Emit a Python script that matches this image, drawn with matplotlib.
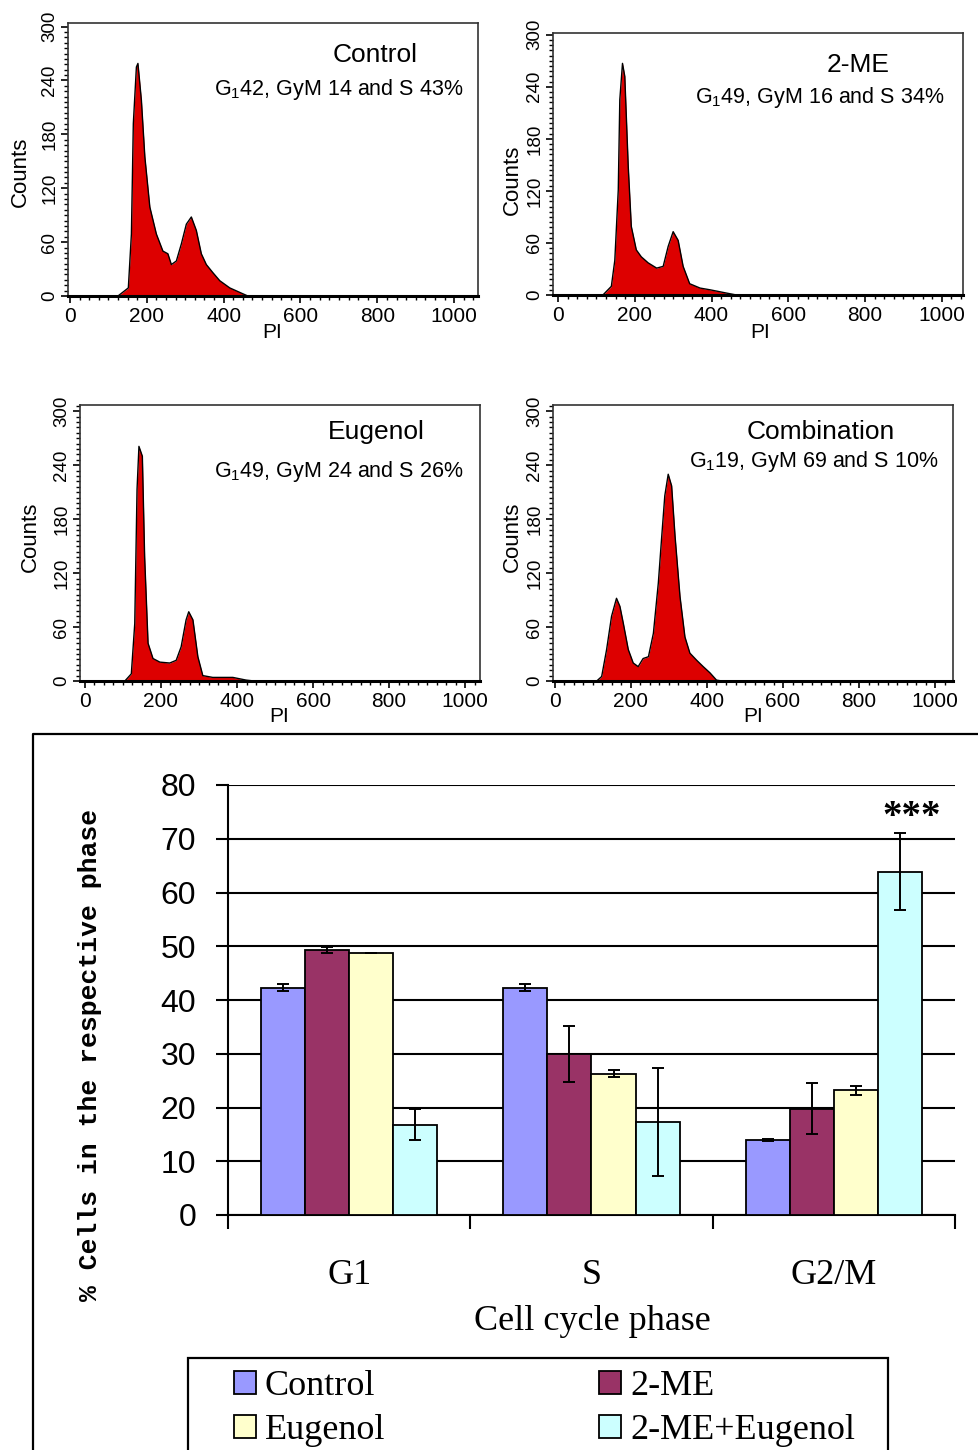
import matplotlib
matplotlib.use("Agg")
import matplotlib.pyplot as plt
from matplotlib.lines import Line2D
from matplotlib.patches import Rectangle
from matplotlib.ticker import MultipleLocator

# DNA content histograms (PI value, counts)
control_pi = [125, 152, 160, 165, 173, 177, 186, 195, 208, 225, 242, 255, 264, 277, 290, 303, 316,
              329, 342, 355, 372, 390, 416, 442, 463]
control_counts = [0, 9, 69, 192, 255, 259, 218, 155, 99, 69, 50, 47, 35, 39, 58, 80, 88,
                  73, 47, 35, 26, 17, 9, 4, 0]

me_pi = [117, 139, 148, 157, 161, 168, 174, 183, 191, 204, 217, 235, 257, 274, 287, 300, 313,
         326, 343, 370, 396, 430, 465]
me_counts = [0, 10, 40, 121, 225, 267, 252, 148, 79, 52, 44, 37, 31, 33, 56, 73, 63,
             33, 13, 8, 6, 3, 0]

eug_pi = [105, 122, 131, 137, 142, 151, 157, 166, 179, 197, 223, 240, 253, 266, 273, 284, 297,
          310, 336, 389, 424, 445]
eug_counts = [0, 8, 64, 213, 261, 250, 138, 42, 25, 21, 20, 23, 38, 68, 77, 68, 27,
              6, 4, 4, 1, 0]

combo_pi = [110, 123, 136, 149, 162, 171, 180, 193, 206, 219, 232, 246, 259, 272, 281, 289, 298,
            307, 316, 329, 342, 355, 373, 390, 408, 425, 439]
combo_counts = [0, 5, 35, 72, 92, 83, 64, 35, 20, 16, 25, 27, 53, 109, 161, 206, 230,
                217, 161, 94, 49, 31, 23, 16, 9, 1, 0]

panel_titles = ["Control", "2-ME", "Eugenol", "Combination"]
panel_notes = [r"G$_\mathregular{1}$42, GyM 14 and S 43%",
               r"G$_\mathregular{1}$49, GyM 16 and S 34%",
               r"G$_\mathregular{1}$49, GyM 24 and S 26%",
               r"G$_\mathregular{1}$19, GyM 69 and S 10%"]

# bar chart: % cells per phase
phases = ["G1", "S", "G2/M"]
groups = ["Control", "2-ME", "Eugenol", "2-ME+Eugenol"]
control_pct = [42.3, 42.3, 14.0]
control_err = [0.7, 0.6, 0.2]
me_pct = [49.3, 30.0, 19.8]
me_err = [0.6, 5.2, 4.7]
eug_pct = [48.8, 26.3, 23.2]
eug_err = [0.0, 0.7, 0.8]
combo_pct = [16.8, 17.3, 63.9]
combo_err = [2.9, 10.0, 7.1]
bar_colors = ["#9999ff", "#993366", "#ffffcc", "#ccffff"]

W, H = 979, 1450


def box(l, t, r, b):
    return [l / W, 1 - b / H, (r - l) / W, (b - t) / H]


fig = plt.figure(figsize=(W / 100, H / 100), dpi=100)
sans = ["Liberation Sans", "DejaVu Sans"]
serif = ["Liberation Serif", "DejaVu Serif"]

# ---- histograms ----
panels = [
    # data, axes box (px), xlim, ylim top, title xy, note xy, counts xy, PI xy
    (control_pi, control_counts, (68, 23, 478, 296), (-5, 1062), 304, (375, 55), (339, 89), (20, 172), (272, 332)),
    (me_pi, me_counts, (553, 33, 963, 295), (-13, 1055), 302, (858, 65), (820, 97), (512, 180), (760, 332)),
    (eug_pi, eug_counts, (80, 405, 480, 681), (-13, 1039), 307, (376, 432), (339, 472), (30, 537), (279, 717)),
    (combo_pi, combo_counts, (553, 405, 953, 681), (-5, 1047), 307, (821, 432), (814, 461), (512, 537), (753, 717)),
]

for k, (pi, counts, bx, xl, ytop, txy, nxy, cxy, pxy) in enumerate(panels):
    ax = fig.add_axes(box(*bx))
    ax.fill_between(pi, counts, color="#dd0000", lw=0)
    ax.plot(pi, counts, color="black", lw=1)
    ax.set_xlim(*xl)
    ax.set_ylim(0, ytop)
    ax.xaxis.set_major_locator(MultipleLocator(200))
    ax.xaxis.set_minor_locator(MultipleLocator(25))
    ax.yaxis.set_major_locator(MultipleLocator(60))
    ax.yaxis.set_minor_locator(MultipleLocator(6))
    ax.tick_params(which="major", length=5, width=1.2, direction="out")
    ax.tick_params(which="minor", length=3, width=1.0, direction="out")
    ax.tick_params(axis="x", pad=3, labelsize=15)
    ax.tick_params(axis="y", pad=2, labelsize=13.5)
    for lab in ax.get_xticklabels() + ax.get_yticklabels():
        lab.set_family(sans)
    for lab in ax.get_yticklabels():
        lab.set_rotation(90)
        lab.set_va("center")
    for s in ["top", "right", "left"]:
        ax.spines[s].set_color("#333333")
        ax.spines[s].set_linewidth(1.2)
    ax.spines["bottom"].set_linewidth(2.2)
    fig.text(txy[0] / W, 1 - txy[1] / H, panel_titles[k], ha="center", va="center",
             fontsize=19, family=sans)
    fig.text(nxy[0] / W, 1 - nxy[1] / H, panel_notes[k], ha="center", va="center",
             fontsize=15.5, family=sans)
    fig.text(cxy[0] / W, 1 - cxy[1] / H, "Counts", rotation=90, ha="center", va="center",
             fontsize=16, family=sans)
    fig.text(pxy[0] / W, 1 - pxy[1] / H, "PI", ha="center", va="center", fontsize=15, family=sans)

# ---- bar chart ----
fig.add_artist(Line2D([33 / W, 33 / W, 1.0], [0.0, 1 - 734 / H, 1 - 734 / H],
                      transform=fig.transFigure, color="black", lw=1.6))

bx = fig.add_axes(box(228, 785, 955, 1215))
series = [(control_pct, control_err), (me_pct, me_err), (eug_pct, eug_err), (combo_pct, combo_err)]
width = 0.182
handles = []
for j, (vals, errs) in enumerate(series):
    xs = [i + (j - 1.5) * width for i in range(len(phases))]
    b = bx.bar(xs, vals, width, color=bar_colors[j], edgecolor="black", lw=1.3, zorder=3,
               label=groups[j])
    handles.append(b)
    bx.errorbar(xs, vals, yerr=errs, fmt="none", ecolor="black", elinewidth=1.4,
                capsize=4, capthick=1.4, zorder=4)

bx.set_xlim(-0.5, 2.5)
bx.set_ylim(0, 80)
bx.yaxis.set_major_locator(MultipleLocator(10))
bx.grid(axis="y", color="black", lw=1.5, zorder=0)
bx.set_axisbelow(True)
bx.spines["top"].set_visible(False)
bx.spines["right"].set_visible(False)
bx.spines["left"].set_linewidth(1.5)
bx.spines["bottom"].set_linewidth(1.5)
bx.set_xticks([-0.5, 0.5, 1.5, 2.5])
bx.set_xticklabels([])
bx.set_xticks(range(len(phases)), minor=True)
bx.set_xticklabels(phases, minor=True, family=serif, fontsize=26)
bx.tick_params(axis="x", which="major", length=10, width=1.5, direction="out")
bx.tick_params(axis="x", which="minor", length=0, pad=32)
bx.tick_params(axis="y", length=9, width=1.5, direction="out", pad=14, labelsize=23)
for lab in bx.get_yticklabels():
    lab.set_family(sans)

top_x = 2 + 1.5 * width + 0.05
bx.text(top_x, 72.2, "***", ha="center", va="baseline", fontsize=28, family=serif,
        fontweight="bold")

fig.text(592 / W, 1 - 1322 / H, "Cell cycle phase", ha="center", va="center",
         fontsize=26, family=serif)
fig.text(90 / W, 1 - 1055 / H, "% Cells in the respective phase", rotation=90,
         ha="center", va="center", fontsize=19, fontweight="bold",
         family=["Liberation Mono", "DejaVu Sans Mono"])

# legend: rows read Control / 2-ME, then Eugenol / 2-ME+Eugenol
fig.add_artist(Rectangle((188 / W, -0.02), (888 - 188) / W, 1 - 1358 / H + 0.02,
                         transform=fig.transFigure, fill=False, edgecolor="black", lw=1.6))
order = [0, 2, 1, 3]
fig.legend(handles=[handles[i] for i in order], labels=[groups[i] for i in order], ncol=2,
           loc="upper left", mode="expand",
           bbox_to_anchor=(234 / W, 0, (855 - 234) / W, 1 - 1370 / H),
           frameon=False, borderaxespad=0, borderpad=0, handlelength=0.6, handleheight=0.6,
           handletextpad=0.25, labelspacing=0.3, prop={"family": serif, "size": 26})

fig.savefig("out.png", dpi=100)
